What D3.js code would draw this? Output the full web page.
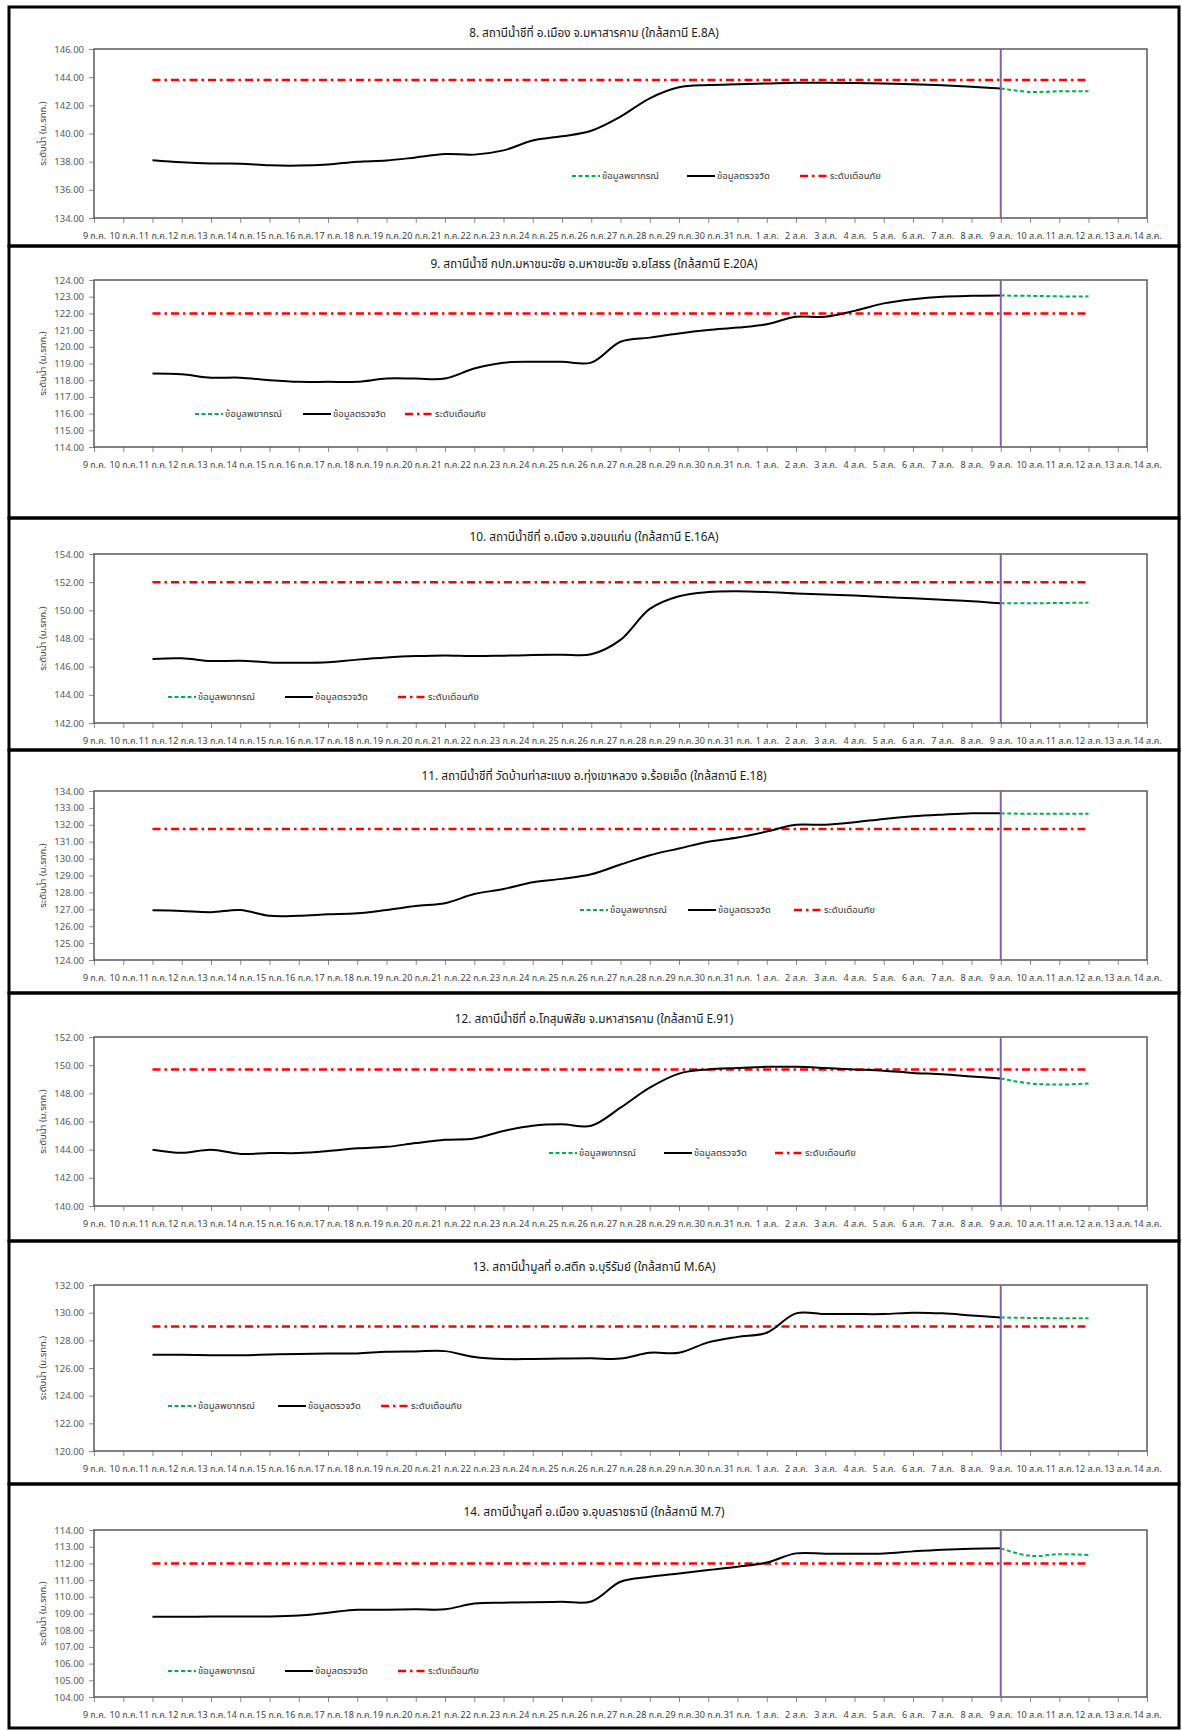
<!DOCTYPE html>
<html>
<head>
<meta charset="UTF-8">
<title>water level</title>
<script src="https://cdn.jsdelivr.net/npm/d3@7/dist/d3.min.js"></script>
<style>
  body { margin: 0; background: #fff; }
  svg text { font-family: Tahoma, "Noto Sans Thai", "Noto Sans", "DejaVu Sans", sans-serif; }
</style>
</head>
<body>
<svg id="chart" width="1182" height="1730"></svg>
<script>
// x axis tick labels (one per day)
var dateLabels = ["9 ก.ค.", "10 ก.ค.", "11 ก.ค.", "12 ก.ค.", "13 ก.ค.", "14 ก.ค.", "15 ก.ค.", "16 ก.ค.",
  "17 ก.ค.", "18 ก.ค.", "19 ก.ค.", "20 ก.ค.", "21 ก.ค.", "22 ก.ค.", "23 ก.ค.", "24 ก.ค.", "25 ก.ค.",
  "26 ก.ค.", "27 ก.ค.", "28 ก.ค.", "29 ก.ค.", "30 ก.ค.", "31 ก.ค.", "1 ส.ค.", "2 ส.ค.", "3 ส.ค.",
  "4 ส.ค.", "5 ส.ค.", "6 ส.ค.", "7 ส.ค.", "8 ส.ค.", "9 ส.ค.", "10 ส.ค.", "11 ส.ค.", "12 ส.ค.",
  "13 ส.ค.", "14 ส.ค."];

var obsDates = dateLabels.slice(2, 32);    // 11 ก.ค. - 9 ส.ค.
var fcDates = dateLabels.slice(31, 35);    // 9 ส.ค. - 12 ส.ค.
var warnDates = [dateLabels[2], dateLabels[34]];
var todayLabel = "9 ส.ค.";

var titles = [
  "8. สถานีน้ำชีที่ อ.เมือง จ.มหาสารคาม (ใกล้สถานี E.8A)",
  "9. สถานีน้ำชี กปภ.มหาชนะชัย อ.มหาชนะชัย จ.ยโสธร (ใกล้สถานี E.20A)",
  "10. สถานีน้ำชีที่ อ.เมือง จ.ขอนแก่น (ใกล้สถานี E.16A)",
  "11. สถานีน้ำชีที่ วัดบ้านท่าสะแบง อ.ทุ่งเขาหลวง จ.ร้อยเอ็ด (ใกล้สถานี E.18)",
  "12. สถานีน้ำชีที่ อ.โกสุมพิสัย จ.มหาสารคาม (ใกล้สถานี E.91)",
  "13. สถานีน้ำมูลที่ อ.สตึก จ.บุรีรัมย์ (ใกล้สถานี M.6A)",
  "14. สถานีน้ำมูลที่ อ.เมือง จ.อุบลราชธานี (ใกล้สถานี M.7)"
];

var legendNames = ["ข้อมูลพยากรณ์", "ข้อมูลตรวจวัด", "ระดับเตือนภัย"];
var yTitle = "ระดับน้ำ (ม.รทก.)";

// observed levels
var obsE8A = [138.10, 137.95, 137.87, 137.86, 137.74, 137.72, 137.80, 138.00, 138.08, 138.30, 138.54, 138.50,
  138.80, 139.50, 139.80, 140.20, 141.20, 142.50, 143.28, 143.44, 143.50, 143.55, 143.60, 143.60, 143.58,
  143.55, 143.50, 143.42, 143.32, 143.20];
var obsE20A = [118.40, 118.35, 118.15, 118.15, 118.00, 117.90, 117.90, 117.90, 118.10, 118.10, 118.10, 118.70,
  119.05, 119.10, 119.10, 119.05, 120.30, 120.55, 120.80, 121.00, 121.15, 121.35, 121.80, 121.80, 122.15,
  122.60, 122.85, 123.00, 123.05, 123.07];
var obsE16A = [146.55, 146.60, 146.40, 146.42, 146.30, 146.28, 146.32, 146.50, 146.65, 146.75, 146.80, 146.75,
  146.78, 146.82, 146.85, 146.88, 147.90, 150.10, 151.00, 151.30, 151.35, 151.30, 151.20, 151.12, 151.05,
  150.95, 150.85, 150.75, 150.65, 150.50];
var obsE18 = [126.95, 126.90, 126.83, 126.96, 126.62, 126.62, 126.70, 126.76, 126.96, 127.20, 127.36, 127.90,
  128.20, 128.60, 128.80, 129.07, 129.65, 130.20, 130.60, 131.00, 131.25, 131.60, 132.00, 132.00, 132.15,
  132.35, 132.50, 132.60, 132.68, 132.68];
var obsE91 = [144.00, 143.78, 144.00, 143.70, 143.76, 143.76, 143.90, 144.10, 144.20, 144.47, 144.70, 144.80,
  145.33, 145.70, 145.80, 145.70, 146.98, 148.40, 149.40, 149.70, 149.80, 149.88, 149.88, 149.80, 149.70,
  149.60, 149.45, 149.35, 149.20, 149.05];
var obsM6A = [126.95, 126.95, 126.92, 126.92, 126.97, 127.02, 127.05, 127.05, 127.18, 127.20, 127.22, 126.80,
  126.65, 126.65, 126.68, 126.70, 126.68, 127.10, 127.10, 127.85, 128.25, 128.55, 129.95, 129.90, 129.90,
  129.90, 130.00, 129.95, 129.80, 129.65];
var obsM7 = [108.80, 108.80, 108.82, 108.82, 108.82, 108.88, 109.05, 109.22, 109.22, 109.25, 109.25, 109.60,
  109.65, 109.68, 109.70, 109.72, 110.90, 111.20, 111.40, 111.60, 111.80, 112.05, 112.60, 112.58, 112.58,
  112.60, 112.72, 112.82, 112.88, 112.90];

// forecast levels
var fcE8A = [143.20, 142.95, 143.00, 143.00];
var fcE20A = [123.07, 123.05, 123.02, 123.02];
var fcE16A = [150.50, 150.50, 150.52, 150.55];
var fcE18 = [132.68, 132.65, 132.65, 132.65];
var fcE91 = [149.05, 148.70, 148.62, 148.70];
var fcM6A = [129.65, 129.62, 129.60, 129.60];
var fcM7 = [112.90, 112.45, 112.55, 112.50];

var warnLevels = [143.8, 122.0, 152.0, 131.75, 149.7, 129.0, 112.0];
var yDomains = [[134, 146], [114, 124], [142, 154], [124, 134], [140, 152], [120, 132], [104, 114]];
var yTickSteps = [2, 1, 2, 1, 2, 2, 1];

var observed = [obsE8A, obsE20A, obsE16A, obsE18, obsE91, obsM6A, obsM7];
var forecast = [fcE8A, fcE20A, fcE16A, fcE18, fcE91, fcM6A, fcM7];

// layout of each panel (page pixels)
var panels = [
  {top: 7, title: 34, pTop: 49, pBot: 218, legY: 176, legX: [572, 687, 800]},
  {top: 246, title: 265, pTop: 280, pBot: 447, legY: 414, legX: [195, 303, 405]},
  {top: 518, title: 538, pTop: 554, pBot: 723, legY: 697, legX: [168, 285, 398]},
  {top: 750, title: 777, pTop: 791, pBot: 960, legY: 910, legX: [580, 688, 794]},
  {top: 993, title: 1020, pTop: 1037, pBot: 1206, legY: 1153, legX: [549, 664, 775]},
  {top: 1241, title: 1268, pTop: 1285, pBot: 1451, legY: 1406, legX: [168, 278, 381]},
  {top: 1484, title: 1513, pTop: 1530, pBot: 1697, legY: 1671, legX: [168, 285, 398]}
];
var pageBottom = 1728;

var svg = d3.select("#chart");
var x = d3.scalePoint().domain(dateLabels).range([94, 1147]);

// frames
panels.forEach(function (p, i) {
  var bottom = i < panels.length - 1 ? panels[i + 1].top : pageBottom;
  svg.append("rect")
      .attr("x", 9).attr("y", p.top)
      .attr("width", 1170).attr("height", bottom - p.top)
      .attr("fill", "none").attr("stroke", "#000").attr("stroke-width", 3);
});

panels.forEach(function (p, i) {
  var g = svg.append("g");
  var y = d3.scaleLinear().domain(yDomains[i]).range([p.pBot, p.pTop]);
  var ticks = d3.range(yDomains[i][0], yDomains[i][1] + 0.001, yTickSteps[i]);

  g.append("text")
      .attr("x", 594).attr("y", p.title)
      .attr("text-anchor", "middle").attr("dominant-baseline", "middle")
      .attr("font-size", 11.8).attr("fill", "#1a1a1a")
      .text(titles[i]);

  // y axis
  var yAxis = g.append("g")
      .attr("transform", "translate(94,0)")
      .call(d3.axisLeft(y).tickValues(ticks).tickSize(5).tickPadding(5)
          .tickFormat(d3.format(".2f")));
  yAxis.select(".domain").remove();
  yAxis.selectAll("line").attr("stroke", "#8c8c8c");
  yAxis.selectAll("text").attr("font-size", 9.5).attr("fill", "#595959");

  // x axis
  var xAxis = g.append("g")
      .attr("transform", "translate(0," + p.pBot + ")")
      .call(d3.axisBottom(x).tickSize(5).tickPadding(10));
  xAxis.select(".domain").remove();
  xAxis.selectAll("line").attr("stroke", "#8c8c8c");
  xAxis.selectAll("text").attr("font-size", 9).attr("fill", "#404040");

  g.append("rect")
      .attr("x", 94).attr("y", p.pTop)
      .attr("width", 1147 - 94).attr("height", p.pBot - p.pTop)
      .attr("fill", "none").attr("stroke", "#595959").attr("stroke-width", 1.5);

  g.append("text")
      .attr("transform", "translate(43," + ((p.pTop + p.pBot) / 2) + ") rotate(-90)")
      .attr("text-anchor", "middle").attr("dominant-baseline", "middle")
      .attr("font-size", 9.5).attr("fill", "#404040")
      .text(yTitle);

  var line = d3.line()
      .x(function (d) { return x(d[0]); })
      .y(function (d) { return y(d[1]); })
      .curve(d3.curveCatmullRom.alpha(0.5));

  // warning level
  g.append("path")
      .attr("d", d3.line()
          .x(function (d) { return x(d); })
          .y(function () { return y(warnLevels[i]); })(warnDates))
      .attr("fill", "none").attr("stroke", "#ff0000").attr("stroke-width", 2.5)
      .attr("stroke-dasharray", "8,4,2.5,4");

  // forecast
  g.append("path")
      .attr("d", line(d3.zip(fcDates, forecast[i])))
      .attr("fill", "none").attr("stroke", "#00b050").attr("stroke-width", 2)
      .attr("stroke-dasharray", "4,2.5");

  // observed
  g.append("path")
      .attr("d", line(d3.zip(obsDates, observed[i])))
      .attr("fill", "none").attr("stroke", "#000").attr("stroke-width", 2);

  // current day marker
  g.append("line")
      .attr("x1", x(todayLabel)).attr("x2", x(todayLabel))
      .attr("y1", p.pTop).attr("y2", p.pBot)
      .attr("stroke", "#8064a2").attr("stroke-width", 2);

  // legend
  var styles = [
    {stroke: "#00b050", dash: "4,2.5", w: 2},
    {stroke: "#000", dash: null, w: 2},
    {stroke: "#ff0000", dash: "8,4,2.5,4", w: 2.5}
  ];
  legendNames.forEach(function (name, k) {
    var lx = p.legX[k];
    g.append("line")
        .attr("x1", lx).attr("x2", lx + 28)
        .attr("y1", p.legY).attr("y2", p.legY)
        .attr("stroke", styles[k].stroke).attr("stroke-width", styles[k].w)
        .attr("stroke-dasharray", styles[k].dash);
    g.append("text")
        .attr("x", lx + 30).attr("y", p.legY)
        .attr("dominant-baseline", "middle")
        .attr("font-size", 9.5).attr("fill", "#333")
        .text(name);
  });
});
</script>
</body>
</html>
